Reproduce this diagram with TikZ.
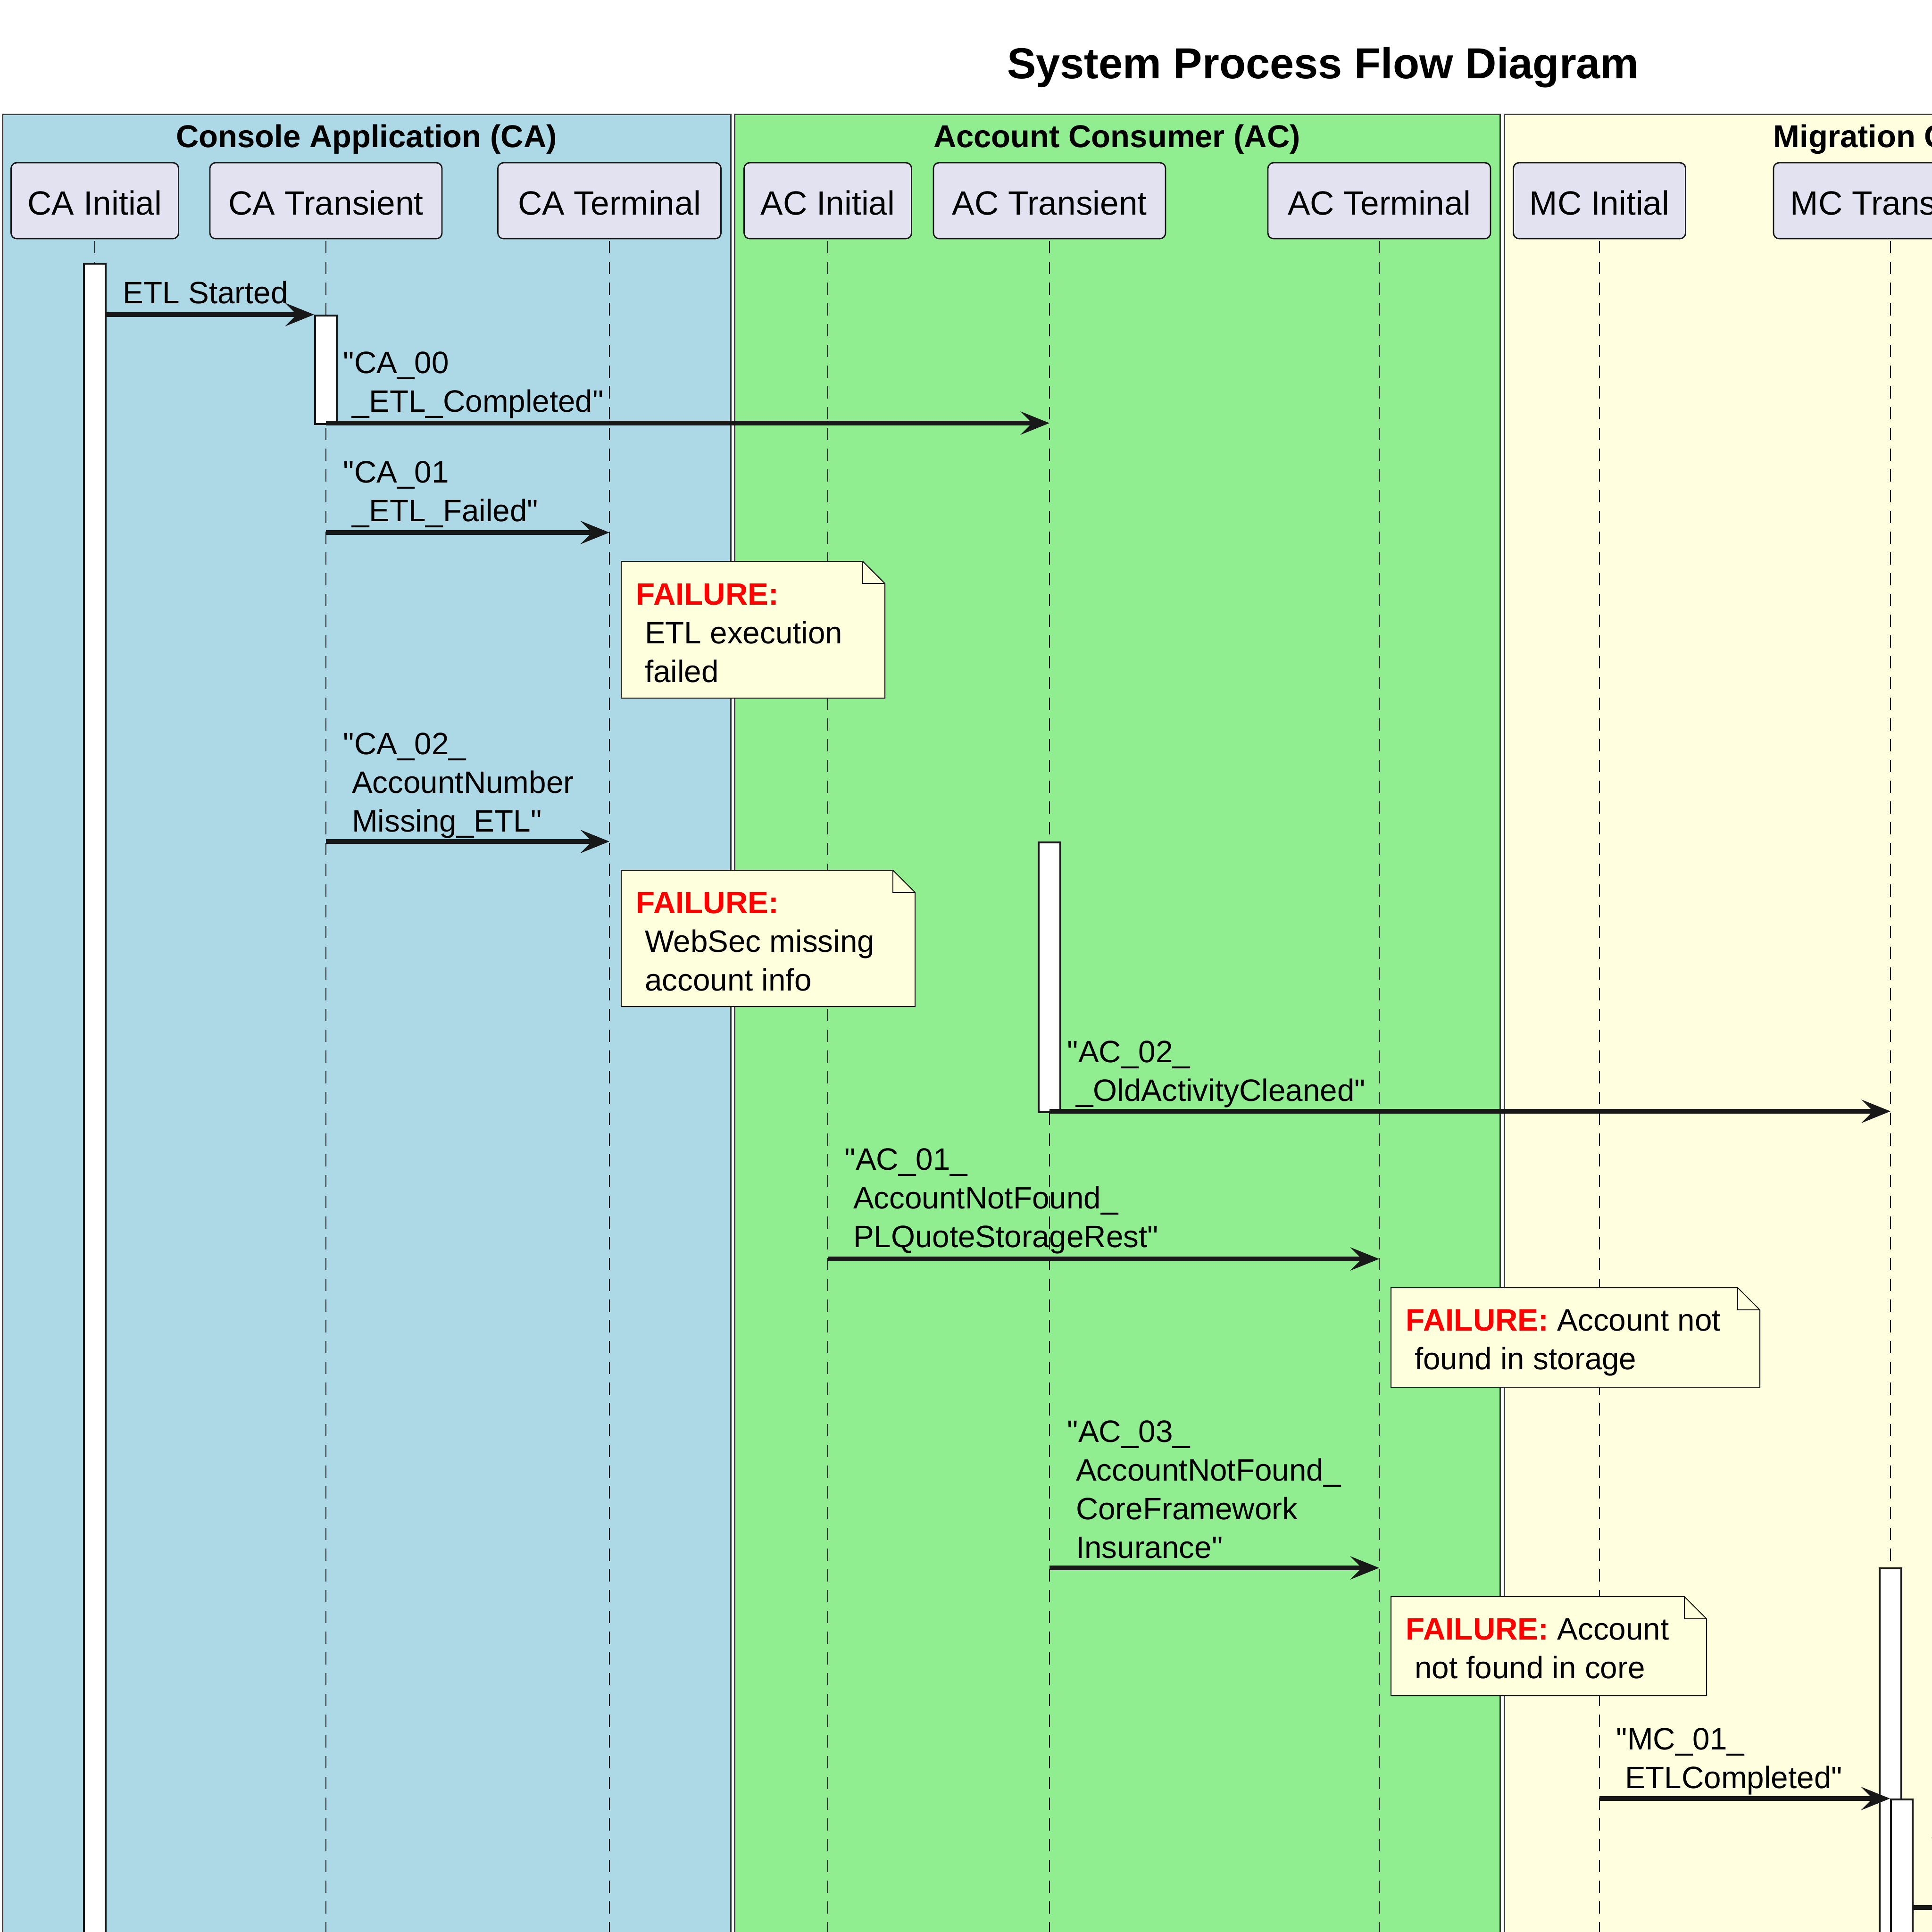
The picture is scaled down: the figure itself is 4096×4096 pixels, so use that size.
\documentclass[tikz,border=0pt]{standalone}
\usepackage{fontspec}
\setmainfont{Liberation Sans}[Ligatures=TeXOff]
\usetikzlibrary{arrows.meta}
\definecolor{ln}{HTML}{181818}
\definecolor{cabg}{HTML}{ADD8E6}
\definecolor{acbg}{HTML}{90EE90}
\definecolor{mcbg}{HTML}{FFFFE0}
\definecolor{partfill}{HTML}{E2E2F0}
\definecolor{notefill}{HTML}{FEFFDD}
\definecolor{boxline}{HTML}{3A3A3A}
\definecolor{failred}{HTML}{FF0000}
\newcommand\mlines[1]{\vtop{\baselineskip=20.5pt\lineskiplimit=-20pt\relax #1}}
\newcommand\failtxt{\textcolor{failred}{\bfseries FAILURE:}}
\begin{document}
\begin{tikzpicture}[x=0.25pt,y=-0.25pt,
  lane/.style={draw=boxline, line width=0.75pt},
  lanetitle/.style={font=\fontsize{16.75}{20}\selectfont\bfseries, inner sep=0pt, anchor=base},
  part/.style={draw=ln, line width=0.7pt, fill=partfill, rounded corners=3pt,
    minimum height=40.25pt, inner sep=0pt, text height=15pt, text depth=0pt,
    font=\fontsize{17.8}{20}\selectfont},
  life/.style={draw=ln, line width=0.55pt, dash pattern=on 6.5pt off 4.5pt},
  actbar/.style={draw=ln, line width=1pt, fill=white, minimum width=11.5pt, inner sep=0pt, anchor=north},
  msg/.style={draw=ln, line width=2.6pt, -{Stealth[length=15.25pt,width=12.2pt,inset=6pt]}},
  lbl/.style={anchor=base west, inner sep=0pt, font=\fontsize{16.4}{20.5}\selectfont},
  notebg/.style={fill=notefill, draw=ln, line width=0.5pt},
  notefold/.style={draw=ln, line width=0.5pt},
]
\useasboundingbox (0,0) rectangle (4096,4096);
\clip (0,0) rectangle (4096,4096);
\fill[white] (0,0) rectangle (4096,4096);

% title
\node[font=\fontsize{23}{28}\selectfont\bfseries, anchor=base, inner sep=0pt] (title) at (2805,167) {System Process Flow Diagram};

% swimlanes
\filldraw[lane, fill=cabg] (5,243) rectangle (1549,4200);
\filldraw[lane, fill=acbg] (1557,243) rectangle (3180,4200);
\filldraw[lane, fill=mcbg] (3189,243) rectangle (4400,4200);
\node[lanetitle] (tca) at (777,313) {Console Application (CA)};
\node[lanetitle] (tac) at (2368,313) {Account Consumer (AC)};
\node[lanetitle, anchor=base west] (tmc) at (3759,313) {Migration Consumer (MC)};

% participants
\node[part, minimum width=88.75pt] (cai) at (201,425.5) {CA Initial};
\node[part, minimum width=123pt] (cat) at (691,425.5) {CA Transient};
\node[part, minimum width=118.25pt] (cate) at (1292,425.5) {CA Terminal};
\node[part, minimum width=88.75pt] (aci) at (1755,425.5) {AC Initial};
\node[part, minimum width=123pt] (act) at (2225,425.5) {AC Transient};
\node[part, minimum width=118pt] (acte) at (2924,425.5) {AC Terminal};
\node[part, minimum width=91.25pt] (mci) at (3391,425.5) {MC Initial};
\node[part, minimum width=124pt] (mct) at (4008,425.5) {MC Transient};

% lifelines
\foreach \p in {cai,cat,cate,aci,act,acte,mci,mct}
  \draw[life] ([yshift=-1pt]\p.south) -- (\p.south |- 0,4200);

% activation bars
\node[actbar, minimum height=910.75pt] (cab) at (201,557) {};
\node[actbar, minimum height=57.5pt] (catb) at (691,667) {};
\node[actbar, minimum height=143pt] (actb) at (2225,1784) {};
\node[actbar, minimum height=219.25pt] (mctb1) at (4008,3323) {};
\node[actbar, minimum height=100pt] (mctb2) at (4032,3813) {};

% messages
\draw[msg] (cab.east |- 0,667) -- (catb.west |- 0,667);
\node[lbl] (l1) at (260,644) {ETL Started};

\draw[msg] (cat |- 0,897) -- (act |- 0,897);
\node[lbl] (l2) at (727,792) {\mlines{\hbox{"CA\_00}\hbox{\ \_ETL\_Completed"}}};

\draw[msg] (cat |- 0,1129) -- (cate |- 0,1129);
\node[lbl] (l3) at (727,1023) {\mlines{\hbox{"CA\_01}\hbox{\ \_ETL\_Failed"}}};

\draw[msg] (cat |- 0,1784) -- (cate |- 0,1784);
\node[lbl] (l4) at (727,1599) {\mlines{\hbox{"CA\_02\_}\hbox{\ AccountNumber}\hbox{\ Missing\_ETL"}}};

\draw[msg] (act |- 0,2356) -- (mct |- 0,2356);
\node[lbl] (l5) at (2262,2252) {\mlines{\hbox{"AC\_02\_}\hbox{\ \_OldActivityCleaned"}}};

\draw[msg] (aci |- 0,2669) -- (acte |- 0,2669);
\node[lbl] (l6) at (1790,2480) {\mlines{\hbox{"AC\_01\_}\hbox{\ AccountNotFound\_}\hbox{\ PLQuoteStorageRest"}}};

\draw[msg] (act |- 0,3324) -- (acte |- 0,3324);
\node[lbl] (l7) at (2262,3057) {\mlines{\hbox{"AC\_03\_}\hbox{\ AccountNotFound\_}\hbox{\ CoreFramework}\hbox{\ Insurance"}}};

\draw[msg] (mci |- 0,3813) -- (mctb2.west |- 0,3813);
\node[lbl] (l8) at (3426,3709) {\mlines{\hbox{"MC\_01\_}\hbox{\ ETLCompleted"}}};

\coordinate (out9) at (4400,4044);
\draw[msg] (mctb2.east |- 0,4044) -- (out9);
\node[lbl] (l9) at (4093,3940) {"};

% notes
\filldraw[notebg] (1317,1190) -- (1829,1190) -- (1876,1237) -- (1876,1480) -- (1317,1480) -- cycle;
\draw[notefold] (1829,1190) -- (1829,1237) -- (1876,1237);
\node[lbl] (n1) at (1348,1282) {\mlines{\hbox{\failtxt}\hbox{\ ETL execution}\hbox{\ failed}}};

\filldraw[notebg] (1317,1845) -- (1893,1845) -- (1940,1892) -- (1940,2134) -- (1317,2134) -- cycle;
\draw[notefold] (1893,1845) -- (1893,1892) -- (1940,1892);
\node[lbl] (n2) at (1348,1936) {\mlines{\hbox{\failtxt}\hbox{\ WebSec missing}\hbox{\ account info}}};

\filldraw[notebg] (2949,2730) -- (3684,2730) -- (3731,2777) -- (3731,2941) -- (2949,2941) -- cycle;
\draw[notefold] (3684,2730) -- (3684,2777) -- (3731,2777);
\node[lbl] (n3) at (2980,2821) {\mlines{\hbox{\failtxt\ Account not}\hbox{\ found in storage}}};

\filldraw[notebg] (2949,3385) -- (3571,3385) -- (3618,3432) -- (3618,3595) -- (2949,3595) -- cycle;
\draw[notefold] (3571,3385) -- (3571,3432) -- (3618,3432);
\node[lbl] (n4) at (2980,3476) {\mlines{\hbox{\failtxt\ Account}\hbox{\ not found in core}}};
\end{tikzpicture}
\end{document}
